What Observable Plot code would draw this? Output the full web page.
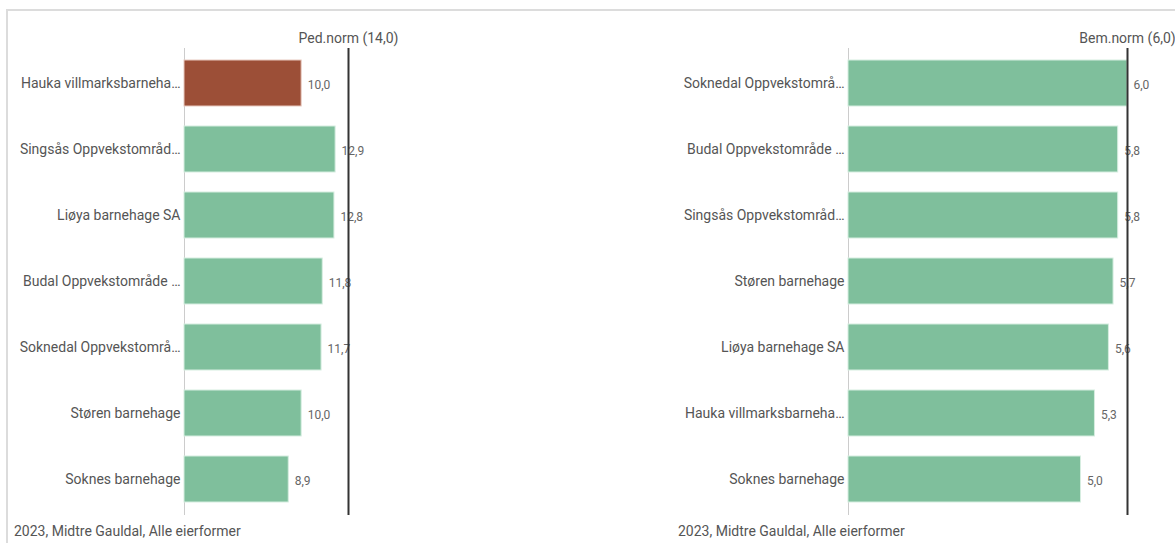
<!DOCTYPE html>
<html>
<head>
<meta charset="utf-8">
<script src="https://cdn.jsdelivr.net/npm/d3@7"></script>
<script src="https://cdn.jsdelivr.net/npm/@observablehq/plot@0.6"></script>
<style>
  html, body { margin: 0; padding: 0; background: #fff; }
  body { width: 1175px; height: 543px; overflow: hidden; position: relative; font-family: Roboto, "Noto Sans", sans-serif; }
  #frame { position: absolute; left: 6px; top: 9px; width: 1200px; height: 600px; border-left: 2px solid #dcdcdc; border-top: 2px solid #dcdcdc; box-sizing: border-box; }
  .panel { position: absolute; top: 0; }
  .caption { position: absolute; top: 523px; font-size: 14px; color: #555; white-space: nowrap; }
</style>
</head>
<body>
<div id="frame"></div>
<div id="left" class="panel" style="left:0px"></div>
<div id="right" class="panel" style="left:660px"></div>
<div class="caption" style="left:14px">2023, Midtre Gauldal, Alle eierformer</div>
<div class="caption" style="left:678px">2023, Midtre Gauldal, Alle eierformer</div>
<script>
// Left panel: pedagogical norm
const pedNames = ["Hauka villmarksbarneha…", "Singsås Oppvekstområd…", "Liøya barnehage SA", "Budal Oppvekstområde …", "Soknedal Oppvekstområ…", "Støren barnehage", "Soknes barnehage"];
const pedValues = [10.0, 12.9, 12.8, 11.8, 11.7, 10.0, 8.9];
const pedHighlight = [true, false, false, false, false, false, false];
const pedNorm = 14.0;
const pedNormLabel = "Ped.norm (14,0)";

// Right panel: staffing norm
const bemNames = ["Soknedal Oppvekstområ…", "Budal Oppvekstområde …", "Singsås Oppvekstområd…", "Støren barnehage", "Liøya barnehage SA", "Hauka villmarksbarneha…", "Soknes barnehage"];
const bemValues = [6.0, 5.8, 5.8, 5.7, 5.6, 5.3, 5.0];
const bemNorm = 6.0;
const bemNormLabel = "Bem.norm (6,0)";

const fmt = v => v.toFixed(1).replace(".", ",");
const GREEN = "#7fbf9c";
const RED = "#9c4f37";

function panel({names, values, highlight, norm, normLabel, width, marginLeft, marginRight}) {
  const data = names.map((n, i) => ({name: n, value: values[i], hl: highlight ? highlight[i] : false}));
  return Plot.plot({
    width, height: 543,
    marginLeft, marginRight, marginTop: 48, marginBottom: 28,
    style: {fontFamily: "Roboto, 'Noto Sans', sans-serif", background: "transparent", overflow: "visible"},
    x: {domain: [0, norm], axis: null},
    y: {domain: names, paddingInner: 0.3, paddingOuter: 0.15, axis: null},
    marks: [
      Plot.ruleX([0], {stroke: "#cccccc", strokeWidth: 1}),
      Plot.barX(data, {
        x: "value", y: "name",
        fill: d => d.hl ? RED : GREEN,
        stroke: d => d.hl ? "#e8c9bf" : "#d6ede0",
        strokeWidth: 1
      }),
      Plot.text(data, {
        x: "value", y: "name", text: d => fmt(d.value),
        textAnchor: "start", dx: 6, dy: 2, fontSize: 12, fill: "#666"
      }),
      Plot.text(data, {
        x: 0, y: "name", text: "name",
        textAnchor: "end", dx: -4, fontSize: 14, fill: "#555"
      }),
      Plot.ruleX([norm], {stroke: "#333", strokeWidth: 2}),
      Plot.text([normLabel], {
        x: norm, frameAnchor: "top", text: d => d,
        dy: -10, fontSize: 14, fill: "#555", lineAnchor: "middle"
      })
    ]
  });
}

document.getElementById("left").append(panel({
  names: pedNames, values: pedValues, highlight: pedHighlight,
  norm: pedNorm, normLabel: pedNormLabel,
  width: 420, marginLeft: 184, marginRight: 72
}));
document.getElementById("right").append(panel({
  names: bemNames, values: bemValues, highlight: null,
  norm: bemNorm, normLabel: bemNormLabel,
  width: 515, marginLeft: 188, marginRight: 48
}));
</script>
</body>
</html>
